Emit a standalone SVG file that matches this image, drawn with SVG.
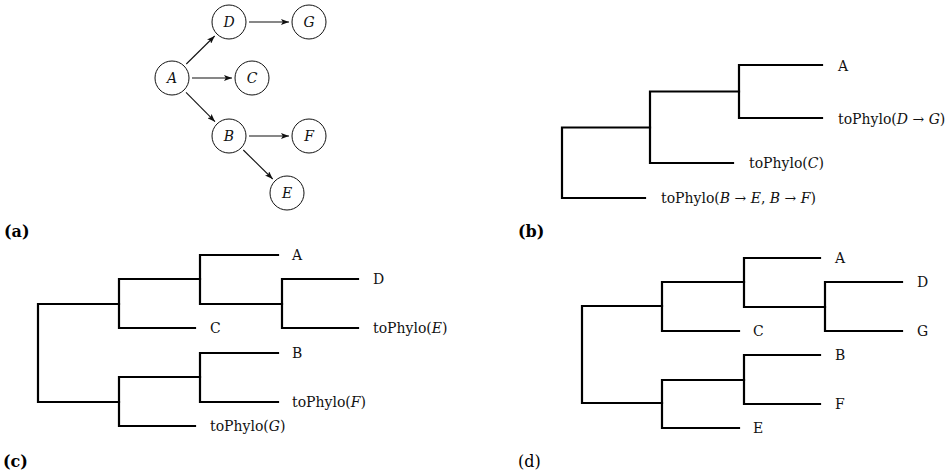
<svg xmlns="http://www.w3.org/2000/svg" width="948" height="473" viewBox="0 0 948 473">
<style>
  .bg{fill:#fff}
  .nd circle{fill:#fff;stroke:#111;stroke-width:1}
  .nd text{font-family:'DejaVu Serif',serif;font-style:italic;font-size:14px;text-anchor:middle;fill:#111}
  .ar{stroke:#111;stroke-width:1.1;fill:none;marker-end:url(#ah)}
  .br{stroke:#000;stroke-width:2.2;fill:none;stroke-linejoin:miter;stroke-linecap:square}
  .lf{font-family:'DejaVu Serif',serif;font-size:14px;fill:#111}
  .lf tspan.m{font-style:italic}
  .cap{font-family:'DejaVu Serif',serif;font-size:16px;font-weight:bold;fill:#000}
</style>
<defs>
  <marker id="ah" viewBox="0 0 8 6" markerWidth="8" markerHeight="6" refX="8" refY="3" orient="auto" markerUnits="userSpaceOnUse">
    <path d="M0,0 L8,3 L0,6 L1.8,3 z" fill="#111"/>
  </marker>
</defs>
<rect class="bg" x="0" y="0" width="948" height="473"/>

<!-- Panel (a) -->
<g id="connectors-a">
  <line class="ar" x1="186.3" y1="64" x2="214.7" y2="36"/>
  <line class="ar" x1="192" y1="78" x2="232" y2="78"/>
  <line class="ar" x1="186" y1="92.3" x2="215" y2="121.7"/>
  <line class="ar" x1="249" y1="22" x2="289" y2="22"/>
  <line class="ar" x1="249" y1="136" x2="289" y2="136"/>
  <line class="ar" x1="243.3" y1="150" x2="272.7" y2="179"/>
</g>
<g id="node-A" class="nd"><circle cx="172" cy="78" r="17"/><text x="172" y="83">A</text></g>
<g id="node-D" class="nd"><circle cx="229" cy="22" r="17"/><text x="229" y="27">D</text></g>
<g id="node-G" class="nd"><circle cx="309" cy="22" r="17"/><text x="309" y="27">G</text></g>
<g id="node-C" class="nd"><circle cx="252" cy="78" r="17"/><text x="252" y="83">C</text></g>
<g id="node-B" class="nd"><circle cx="229" cy="136" r="17"/><text x="229" y="141">B</text></g>
<g id="node-F" class="nd"><circle cx="309" cy="136" r="17"/><text x="309" y="141">F</text></g>
<g id="node-E" class="nd"><circle cx="287" cy="193" r="17"/><text x="287" y="198">E</text></g>
<text id="cap-a" class="cap" x="4" y="237">(a)</text>

<!-- Panel (b) -->
<g id="tree-b-branches">
  <path class="br" d="M650,127.5 H562 V198 H645"/>
  <path class="br" d="M739,91.5 H650 V163 H733"/>
  <path class="br" d="M822,65 H739 V118 H822"/>
</g>
<g id="tree-b-leaves">
  <text class="lf" x="838" y="70.5">A</text>
  <text class="lf" x="838" y="123.5">toPhylo(<tspan class="m">D</tspan> → <tspan class="m">G</tspan>)</text>
  <text class="lf" x="749" y="168">toPhylo(<tspan class="m">C</tspan>)</text>
  <text class="lf" x="661" y="203">toPhylo(<tspan class="m">B</tspan> → <tspan class="m">E</tspan>, <tspan class="m">B</tspan> → <tspan class="m">F</tspan>)</text>
</g>
<text id="cap-b" class="cap" x="518" y="237">(b)</text>

<!-- Panel (c) -->
<g id="tree-c-branches">
  <path class="br" d="M119,304 H38 V402 H119"/>
  <path class="br" d="M200,279 H119 V328 H195"/>
  <path class="br" d="M278,255 H200 V304 H282"/>
  <path class="br" d="M358,279 H282 V328 H358"/>
  <path class="br" d="M200,377 H119 V426 H195"/>
  <path class="br" d="M278,353 H200 V402 H278"/>
</g>
<g id="tree-c-leaves">
  <text class="lf" x="292" y="260">A</text>
  <text class="lf" x="373" y="284">D</text>
  <text class="lf" x="373" y="333">toPhylo(<tspan class="m">E</tspan>)</text>
  <text class="lf" x="210" y="333">C</text>
  <text class="lf" x="292" y="358">B</text>
  <text class="lf" x="292" y="407">toPhylo(<tspan class="m">F</tspan>)</text>
  <text class="lf" x="210" y="431">toPhylo(<tspan class="m">G</tspan>)</text>
</g>
<text id="cap-c" class="cap" x="3" y="467">(c)</text>

<!-- Panel (d) -->
<g id="tree-d-branches">
  <path class="br" d="M662,306 H582 V403 H662"/>
  <path class="br" d="M744,282 H662 V331 H739"/>
  <path class="br" d="M820,258 H744 V307 H825"/>
  <path class="br" d="M902,282 H825 V331 H902"/>
  <path class="br" d="M744,380 H662 V428 H739"/>
  <path class="br" d="M820,355 H744 V404 H820"/>
</g>
<g id="tree-d-leaves">
  <text class="lf" x="835" y="263">A</text>
  <text class="lf" x="917" y="287">D</text>
  <text class="lf" x="917" y="336">G</text>
  <text class="lf" x="753" y="336">C</text>
  <text class="lf" x="835" y="360">B</text>
  <text class="lf" x="835" y="409">F</text>
  <text class="lf" x="753" y="433">E</text>
</g>
<text id="cap-d" class="cap" x="518" y="467" style="font-weight:normal">(d)</text>
</svg>
